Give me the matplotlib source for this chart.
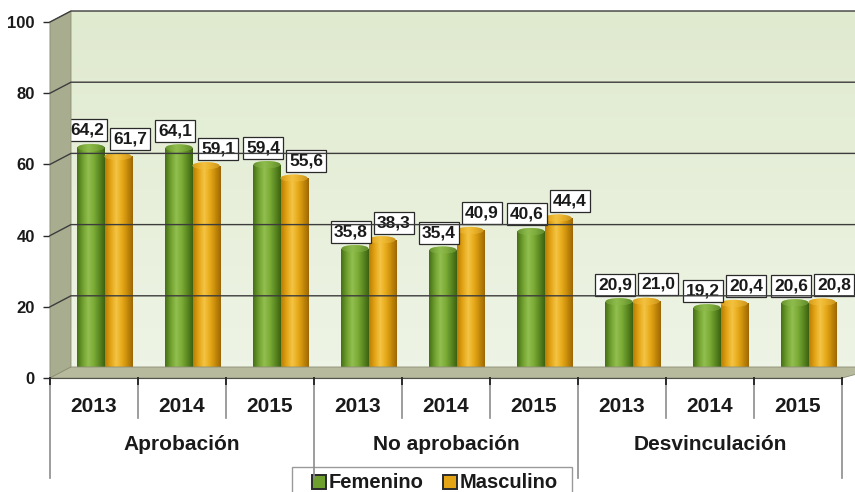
import numpy as np
import matplotlib

matplotlib.use("Agg")
import matplotlib.pyplot as plt
from matplotlib import transforms
from matplotlib.patches import Polygon, Rectangle, Ellipse
from matplotlib.lines import Line2D
from matplotlib.colors import LinearSegmentedColormap

# --- data -----------------------------------------------------------------
GROUPS = ["Aprobación", "No aprobación", "Desvinculación"]
YEARS = ["2013", "2014", "2015"]
SERIES = ["Femenino", "Masculino"]
FEMENINO = [64.2, 64.1, 59.4, 35.8, 35.4, 40.6, 20.9, 19.2, 20.6]
MASCULINO = [61.7, 59.1, 55.6, 38.3, 40.9, 44.4, 21.0, 20.4, 20.8]
YTICKS = [0, 20, 40, 60, 80, 100]

# --- style ----------------------------------------------------------------
INK = "#1a1a1a"
WALL_TOP = "#e0eacf"
WALL_BOT = "#eef4e5"
SIDE = "#a9ad90"
FLOOR = "#b7ba9d"
GRID = "#3c3c3c"
SEP = "#8c8c8c"
GREEN_CM = LinearSegmentedColormap.from_list(
    "g", ["#466f17", "#6f9f2e", "#92bf4f", "#7dac38", "#5c8a22", "#3d6212"])
ORANGE_CM = LinearSegmentedColormap.from_list(
    "o", ["#b97f06", "#e3a415", "#f4c443", "#e8ab1c", "#c78b0a", "#9c6804"])
GREEN_TOP = "#8cb84c"
ORANGE_TOP = "#f2c040"
FONT = "Liberation Sans"

DX, DY = 21, 11          # depth of the 3-D box, in pixels
BAR_W = 0.307            # width of one cylinder (category units)

fig = plt.figure(figsize=(8.55, 4.92), dpi=100)
ax = fig.add_axes([50 / 855, 114 / 492, 792 / 855, 356 / 492])
ax.set_xlim(0, 9)
ax.set_ylim(0, 100)
ax.set_facecolor("none")

back = transforms.offset_copy(ax.transData, fig=fig, x=DX, y=DY, units="dots")
mid = transforms.offset_copy(ax.transData, fig=fig, x=DX / 2, y=DY / 2, units="dots")
pix = transforms.IdentityTransform()


def px(x, y, dx=0, dy=0):
    p = ax.transData.transform((x, y))
    return p[0] + dx, p[1] + dy


# --- walls ----------------------------------------------------------------
grad = np.linspace(0, 1, 64).reshape(-1, 1)
wall_cm = LinearSegmentedColormap.from_list("w", [WALL_BOT, WALL_TOP])
wall = ax.imshow(grad, cmap=wall_cm, aspect="auto", origin="lower",
                 extent=(0, 9.3, 0, 100), transform=back, zorder=0)
wall.set_clip_on(False)

side = Polygon([px(0, 0), px(0, 100), px(0, 100, DX, DY), px(0, 0, DX, DY)],
               closed=True, transform=pix, facecolor=SIDE, edgecolor="#8a8d74",
               lw=0.6, zorder=0.5)
fig.add_artist(side)
floor = Polygon([px(0, 0), px(9, 0), px(9, 0, DX + 20, DY), px(0, 0, DX, DY)],
                closed=True, transform=pix, facecolor=FLOOR, edgecolor="#8a8d74",
                lw=0.6, zorder=0.5)
fig.add_artist(floor)

# gridlines on back wall and side wall
for yv in YTICKS[1:]:
    x0, y0 = px(0, yv)
    x1, y1 = px(0, yv, DX, DY)
    x2, _ = px(9, yv, DX + 20, DY)
    fig.add_artist(Line2D([x0, x1, x2], [y0, y1, y1], transform=pix,
                          color=GRID, lw=1.0, zorder=0.8))

# --- cylinders --------------------------------------------------------------
hgrad = np.linspace(0, 1, 64).reshape(1, -1)
cap_h = 7 / (ax.transData.transform((0, 1))[1] - ax.transData.transform((0, 0))[1])

for i in range(len(FEMENINO)):
    c = i + 0.5
    for vals, cm, top, x0 in ((FEMENINO, GREEN_CM, GREEN_TOP, c - BAR_W),
                              (MASCULINO, ORANGE_CM, ORANGE_TOP, c)):
        v = vals[i]
        body = ax.bar(x0, v - cap_h / 2, width=BAR_W, align="edge",
                      transform=mid, color=top, lw=0, zorder=2)[0]
        im = ax.imshow(hgrad, cmap=cm, aspect="auto",
                       extent=(x0, x0 + BAR_W, 0, v), transform=mid, zorder=2.1)
        im.set_clip_path(body)
        cap = Ellipse((x0 + BAR_W / 2, v - cap_h / 2), BAR_W, cap_h,
                      transform=mid, facecolor=top, lw=0, zorder=2.2)
        ax.add_patch(cap)
        im2 = ax.imshow(hgrad, cmap=cm, aspect="auto", alpha=0.55,
                        extent=(x0, x0 + BAR_W, 0, v + 1), transform=mid, zorder=2.3)
        im2.set_clip_path(cap)

# --- value labels ---------------------------------------------------------
for i in range(len(FEMENINO)):
    c = i + 0.5
    for vals, xc, dx in ((FEMENINO, c - BAR_W / 2, -4), (MASCULINO, c + BAR_W / 2, 12)):
        v = vals[i]
        ax.annotate(f"{v:.1f}".replace(".", ","), xy=(xc, v), xycoords=mid,
                    xytext=(dx, 6), textcoords="offset pixels",
                    ha="center", va="bottom", fontsize=12.5, fontweight="bold",
                    family=FONT, color=INK, zorder=5,
                    bbox=dict(boxstyle="square,pad=0.2", fc="white",
                              ec="#2a2a2a", lw=0.9))

# --- axes -----------------------------------------------------------------
for s in ("top", "right"):
    ax.spines[s].set_visible(False)
ax.spines["left"].set_color("#2a2a2a")
ax.spines["bottom"].set_color("#2a2a2a")
ax.spines["left"].set_zorder(3)
ax.spines["bottom"].set_zorder(3)
ax.set_yticks(YTICKS)
ax.set_yticklabels([str(t) for t in YTICKS], fontsize=12, fontweight="bold",
                   family=FONT, color=INK)
ax.tick_params(axis="y", length=5, width=1, color="#2a2a2a", pad=6)
ax.set_xticks([])

# category labels and separators
for i in range(9):
    ax.annotate(YEARS[i % 3], xy=(i + 0.5, 0), xycoords=("data", "axes fraction"),
                xytext=(0, -28), textcoords="offset pixels", ha="center",
                va="center", fontsize=15, fontweight="bold", family=FONT, color=INK)
for g, name in enumerate(GROUPS):
    ax.annotate(name, xy=(g * 3 + 1.5, 0), xycoords=("data", "axes fraction"),
                xytext=(0, -67), textcoords="offset pixels", ha="center",
                va="center", fontsize=15, fontweight="bold", family=FONT, color=INK)
for i in range(10):
    x0, y0 = px(i, 0)
    depth = 100 if i % 3 == 0 else 40
    fig.add_artist(Line2D([x0, x0], [y0 - 6, y0 - depth], transform=pix,
                          color=SEP, lw=1.2))
    fig.add_artist(Line2D([x0, x0], [y0, y0 - 6], transform=pix,
                          color="#2a2a2a", lw=1.4))

# --- legend (drawn by hand to match the boxed Excel legend) ---------------
fig.add_artist(Rectangle((292, -10), 280, 35, transform=pix, facecolor="white",
                         edgecolor="#9a9a9a", lw=1.0))
for (sq_x, tx), name, col in zip(((312, 329), (443, 460)), SERIES,
                                 ("#6f9f2e", "#e3a415")):
    fig.add_artist(Rectangle((sq_x, 3), 14, 14, transform=pix, facecolor=col,
                             edgecolor="#2a2a2a", lw=1.4))
    fig.text(tx, 10, name, transform=pix, ha="left", va="center",
             fontsize=14.5, fontweight="bold", family=FONT, color=INK)

fig.savefig("out.png", dpi=100, facecolor="white")
